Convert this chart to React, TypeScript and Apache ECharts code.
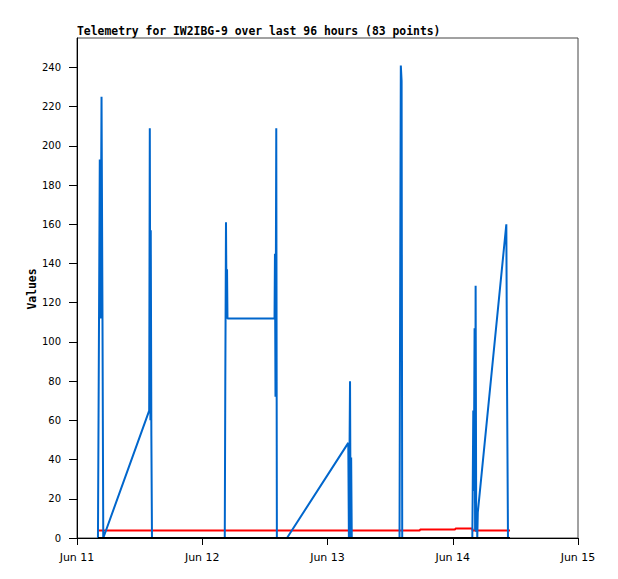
import React, { useEffect, useRef } from "react";
import * as echarts from "echarts";

// Sample times (UTC)
const times: string[] = [
  "2024-06-11T04:01:00Z", "2024-06-11T04:22:00Z", "2024-06-11T04:30:00Z", "2024-06-11T04:42:00Z",
  "2024-06-11T04:53:00Z", "2024-06-11T05:02:00Z", "2024-06-11T13:50:00Z", "2024-06-11T13:57:00Z",
  "2024-06-11T14:04:00Z", "2024-06-11T14:08:00Z", "2024-06-11T14:15:00Z", "2024-06-11T14:22:00Z",
  "2024-06-12T04:19:00Z", "2024-06-12T04:25:00Z", "2024-06-12T04:33:00Z", "2024-06-12T04:40:00Z",
  "2024-06-12T04:45:00Z", "2024-06-12T04:50:00Z", "2024-06-12T13:51:00Z", "2024-06-12T13:56:00Z",
  "2024-06-12T14:02:00Z", "2024-06-12T14:11:00Z", "2024-06-12T14:18:00Z", "2024-06-12T16:14:00Z",
  "2024-06-13T03:59:00Z", "2024-06-13T04:06:00Z", "2024-06-13T04:19:00Z", "2024-06-13T04:26:00Z",
  "2024-06-13T04:32:00Z", "2024-06-13T04:39:00Z", "2024-06-13T13:48:00Z", "2024-06-13T13:53:00Z",
  "2024-06-13T14:03:00Z", "2024-06-13T14:12:00Z", "2024-06-13T14:19:00Z", "2024-06-13T17:38:00Z",
  "2024-06-13T17:46:00Z", "2024-06-14T00:26:00Z", "2024-06-14T00:33:00Z", "2024-06-14T03:45:00Z",
  "2024-06-14T03:49:00Z", "2024-06-14T03:56:00Z", "2024-06-14T04:02:00Z", "2024-06-14T04:11:00Z",
  "2024-06-14T04:17:00Z", "2024-06-14T04:23:00Z", "2024-06-14T04:30:00Z", "2024-06-14T04:37:00Z",
  "2024-06-14T04:42:00Z", "2024-06-14T04:48:00Z", "2024-06-14T10:16:00Z", "2024-06-14T10:24:00Z",
  "2024-06-14T10:35:00Z", "2024-06-14T10:58:00Z",
];

const blueValues: number[] = [
  0, 193, 112, 225, 112, 0, 65, 209, 60, 157, 52, 0,
  0, 80, 161, 112, 137, 112, 112, 145, 72, 209, 0, 0,
  48.5, 0, 80, 0, 41, 0, 0, 88.5, 241, 233, 0, 0,
  0, 0, 0, 0, 21, 65, 24, 107, 4, 128.6, 3, 14,
  0, 13, 160, 80, 0, 0,
];

const redValues: number[] = [
  3.8, 3.8, 3.8, 3.8, 3.8, 3.8, 3.8, 3.8, 3.8, 3.8, 3.8, 3.8,
  3.8, 3.8, 3.8, 3.8, 3.8, 3.8, 3.8, 3.8, 3.8, 3.8, 3.8, 3.8,
  3.8, 3.8, 3.8, 3.8, 3.8, 3.8, 3.8, 3.8, 3.8, 3.8, 3.8, 3.8,
  4.3, 4.3, 4.8, 4.8, 3.8, 3.8, 3.8, 3.8, 3.8, 3.8, 3.8, 3.8,
  3.8, 3.8, 3.8, 3.8, 3.8, 3.8,
];

const blackValues: number[] = [
  0, 0, 0, 0, 0, 0, 0, 0, 0, 0, 0, 0,
  0, 0, 0, 0, 0, 0, 0, 0, 0, 0, 0, 0,
  0, 0, 0, 0, 0, 0, 0, 0, 0, 0, 0, 0,
  0, 0, 0, 0, 0, 0, 0, 0, 0, 0, 0, 0,
  0, 0, 0, 0, 0, 0,
];

const xTickDates: string[] = [
  "2024-06-11T00:00:00Z", "2024-06-12T00:00:00Z", "2024-06-13T00:00:00Z",
  "2024-06-14T00:00:00Z", "2024-06-15T00:00:00Z",
];
const yTicks: number[] = [0, 20, 40, 60, 80, 100, 120, 140, 160, 180, 200, 220, 240];
const monthNames = ["Jan", "Feb", "Mar", "Apr", "May", "Jun", "Jul", "Aug", "Sep", "Oct", "Nov", "Dec"];

const titleText = "Telemetry for IW2IBG-9 over last 96 hours (83 points)";
const yName = "Values";

export default function App() {
  const ref = useRef<HTMLDivElement>(null);
  useEffect(() => {
    if (!ref.current) return;
    const chart = echarts.init(ref.current, null, { renderer: "svg" });
    const ts = times.map((t) => Date.parse(t));
    const xTicks = xTickDates.map((t) => Date.parse(t));
    const mk = (vals: number[]) => ts.map((t, i) => [t, vals[i]]);
    const mono = "'DejaVu Sans Mono', 'Liberation Mono', monospace";
    chart.setOption({
      animation: false,
      backgroundColor: "#ffffff",
      title: {
        text: titleText,
        left: 72,
        top: 20,
        textStyle: { fontFamily: mono, fontWeight: "bold", fontSize: 11.4, color: "#000" },
      },
      graphic: [
        {
          type: "text",
          x: 32,
          y: 289,
          rotation: Math.PI / 2,
          style: {
            text: yName,
            fontFamily: mono,
            fontWeight: "bold",
            fontSize: 11.4,
            fill: "#000",
            align: "center",
            verticalAlign: "middle",
          },
        },
      ],
      grid: {
        left: 77, top: 38, right: 40, bottom: 41,
        show: true, borderColor: "#444", borderWidth: 1, backgroundColor: "transparent",
      },
      xAxis: {
        type: "value",
        min: xTicks[0],
        max: xTicks[xTicks.length - 1],
        splitLine: { show: false },
        axisLine: { show: true, lineStyle: { color: "#000", width: 1 } },
        axisTick: { show: true, customValues: xTicks, length: 7, lineStyle: { color: "#000" } },
        axisLabel: {
          customValues: xTicks,
          margin: 14,
          color: "#000",
          fontFamily: "'DejaVu Sans', sans-serif",
          fontSize: 11,
          formatter: (v: number) => {
            const d = new Date(v);
            return monthNames[d.getUTCMonth()] + " " + d.getUTCDate();
          },
        },
      },
      yAxis: {
        type: "value",
        min: 0,
        max: 255,
        interval: 20,
        splitLine: { show: false },
        axisLine: { show: true, lineStyle: { color: "#000", width: 1 } },
        axisTick: { show: true, customValues: yTicks, length: 8, lineStyle: { color: "#000" } },
        axisLabel: {
          customValues: yTicks,
          margin: 16,
          color: "#000",
          fontFamily: "'DejaVu Sans', sans-serif",
          fontSize: 10,
        },
      },
      series: [
        {
          type: "line", data: mk(redValues), showSymbol: false, symbol: "none",
          lineStyle: { color: "#ff0000", width: 2 }, z: 2,
        },
        {
          type: "line", data: mk(blueValues), showSymbol: false, symbol: "none",
          lineStyle: { color: "#0066cc", width: 2 }, z: 3,
        },
        {
          type: "line", data: mk(blackValues), showSymbol: false, symbol: "none",
          lineStyle: { color: "#000000", width: 2 }, z: 4,
        },
      ],
    });
    return () => chart.dispose();
  }, []);
  return (
    <div
      ref={ref}
      style={{ position: "absolute", left: 0, top: 0, width: 618, height: 579, background: "#fff" }}
    />
  );
}
